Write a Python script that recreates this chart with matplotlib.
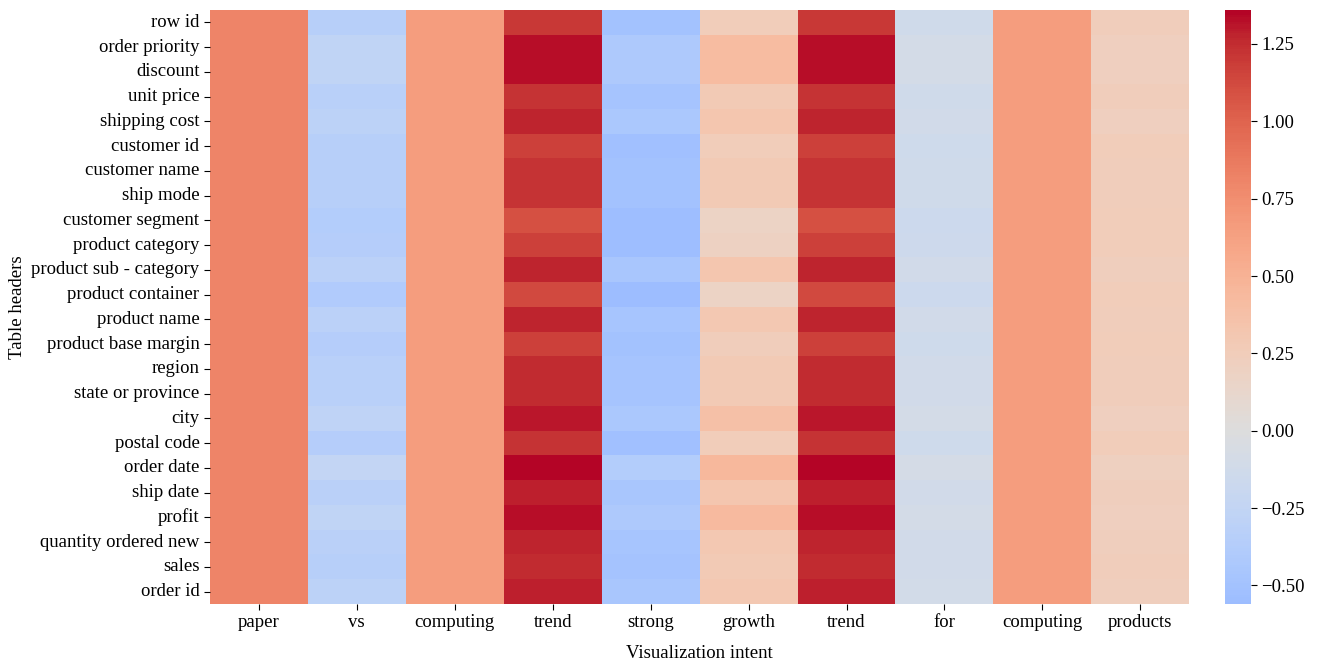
import numpy as np
import pandas as pd
import matplotlib
matplotlib.use("Agg")
import matplotlib.pyplot as plt
import seaborn as sns

# ── data ────────────────────────────────────────────────────────────────────
rows = ["row id", "order priority", "discount", "unit price", "shipping cost",
        "customer id", "customer name", "ship mode", "customer segment",
        "product category", "product sub - category", "product container",
        "product name", "product base margin", "region", "state or province",
        "city", "postal code", "order date", "ship date", "profit",
        "quantity ordered new", "sales", "order id"]
cols = ["paper", "vs", "computing", "trend", "strong", "growth", "trend",
        "for", "computing", "products"]

paper     = [0.82, 0.82, 0.82, 0.82, 0.82, 0.82, 0.82, 0.82, 0.82, 0.82, 0.82, 0.82,
             0.82, 0.82, 0.82, 0.82, 0.82, 0.82, 0.82, 0.82, 0.82, 0.82, 0.82, 0.82]
vs        = [-0.35, -0.27, -0.27, -0.33, -0.30, -0.35, -0.34, -0.34, -0.38, -0.37, -0.31, -0.40,
             -0.31, -0.36, -0.33, -0.33, -0.28, -0.37, -0.25, -0.32, -0.27, -0.32, -0.34, -0.30]
computing = [0.65, 0.65, 0.65, 0.65, 0.65, 0.65, 0.65, 0.65, 0.65, 0.65, 0.65, 0.65,
             0.65, 0.65, 0.65, 0.65, 0.65, 0.65, 0.65, 0.65, 0.65, 0.65, 0.65, 0.65]
trend     = [1.20, 1.33, 1.33, 1.23, 1.28, 1.18, 1.23, 1.23, 1.10, 1.17, 1.27, 1.12,
             1.27, 1.17, 1.25, 1.25, 1.31, 1.23, 1.36, 1.29, 1.33, 1.28, 1.26, 1.29]
strong    = [-0.50, -0.42, -0.42, -0.48, -0.44, -0.52, -0.50, -0.50, -0.54, -0.54, -0.46, -0.56,
             -0.47, -0.50, -0.48, -0.48, -0.44, -0.52, -0.38, -0.46, -0.42, -0.47, -0.49, -0.46]
growth    = [0.25, 0.42, 0.42, 0.28, 0.33, 0.25, 0.28, 0.28, 0.18, 0.20, 0.32, 0.18,
             0.30, 0.24, 0.28, 0.28, 0.38, 0.25, 0.45, 0.33, 0.43, 0.30, 0.28, 0.30]
for_      = [-0.13, -0.10, -0.10, -0.13, -0.12, -0.14, -0.13, -0.13, -0.16, -0.15, -0.12, -0.17,
             -0.12, -0.14, -0.12, -0.12, -0.10, -0.14, -0.09, -0.12, -0.10, -0.12, -0.12, -0.11]
products  = [0.24, 0.22, 0.22, 0.24, 0.22, 0.25, 0.24, 0.24, 0.25, 0.25, 0.23, 0.25,
             0.24, 0.25, 0.24, 0.24, 0.22, 0.25, 0.21, 0.23, 0.22, 0.23, 0.24, 0.23]

data = np.column_stack([paper, vs, computing, trend, strong, growth, trend,
                        for_, computing, products])
df = pd.DataFrame(data, index=rows, columns=cols)

# ── plot ────────────────────────────────────────────────────────────────────
plt.rcParams["font.family"] = ["Liberation Serif", "DejaVu Serif"]
plt.rcParams["font.size"] = 13.5

fig = plt.figure(figsize=(13.2, 6.64), dpi=100)
ax = fig.add_axes([0.159, 0.0904, 0.742, 0.8946])
cax = fig.add_axes([0.928, 0.0904, 0.0197, 0.8946])

sns.heatmap(df, ax=ax, cbar_ax=cax, cmap="coolwarm", center=0,
            vmin=-0.56, vmax=1.36)

ax.set_xlabel("Visualization intent", fontsize=13.5, labelpad=10)
ax.set_ylabel("Table headers", fontsize=13.5, labelpad=4)
ax.tick_params(axis="both", labelsize=13.5, length=4)
ax.tick_params(axis="x", pad=3)
ax.set_xticklabels(cols, rotation=0)
ax.set_yticklabels(rows, rotation=0)
cax.tick_params(labelsize=13.5, length=4)
cax.set_yticks([-0.5, -0.25, 0.0, 0.25, 0.5, 0.75, 1.0, 1.25])

fig.savefig("out.png", dpi=100)
